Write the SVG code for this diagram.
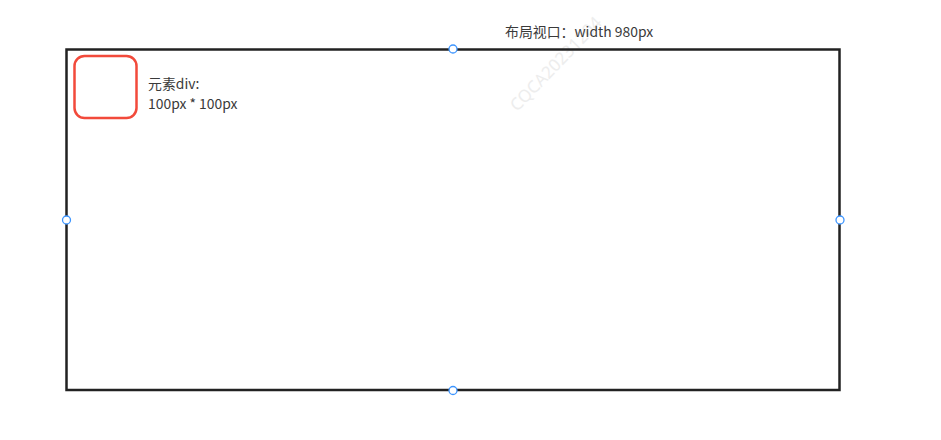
<svg xmlns="http://www.w3.org/2000/svg" width="941" height="440" viewBox="0 0 941 440">
<style>
.t{font-family:"Noto Sans CJK SC","Noto Sans","Liberation Sans",sans-serif;font-size:13.9px;fill:#3a3a3a}
.h{fill:#fff;stroke:#3d95ff;stroke-width:1.3}
</style>
<rect width="941" height="440" fill="#fff"/>
<text x="560" y="68" transform="rotate(-46 560 68)" text-anchor="middle" style="font-family:'Noto Sans','Liberation Sans',sans-serif;font-size:17px;fill:#ededed">CQCA20231204</text>
<g id="viewport">
<rect x="66.5" y="49.5" width="773" height="340.5" fill="none" stroke="#222" stroke-width="2.5"/>
<text class="t" x="505" y="37">布局视口：width 980px</text>
</g>
<g id="div">
<rect x="74.5" y="56" width="62" height="62" rx="10" fill="none" stroke="#f24a3b" stroke-width="2.5"/>
<text class="t" x="148" y="89">元素div:</text>
<text class="t" x="148" y="109">100px * 100px</text>
</g>
<g id="handles">
<circle class="h" cx="453" cy="49" r="4"/>
<circle class="h" cx="66.5" cy="220" r="4"/>
<circle class="h" cx="840" cy="220" r="4"/>
<circle class="h" cx="453" cy="390.5" r="4"/>
</g>
<g id="connectors"></g>
</svg>
